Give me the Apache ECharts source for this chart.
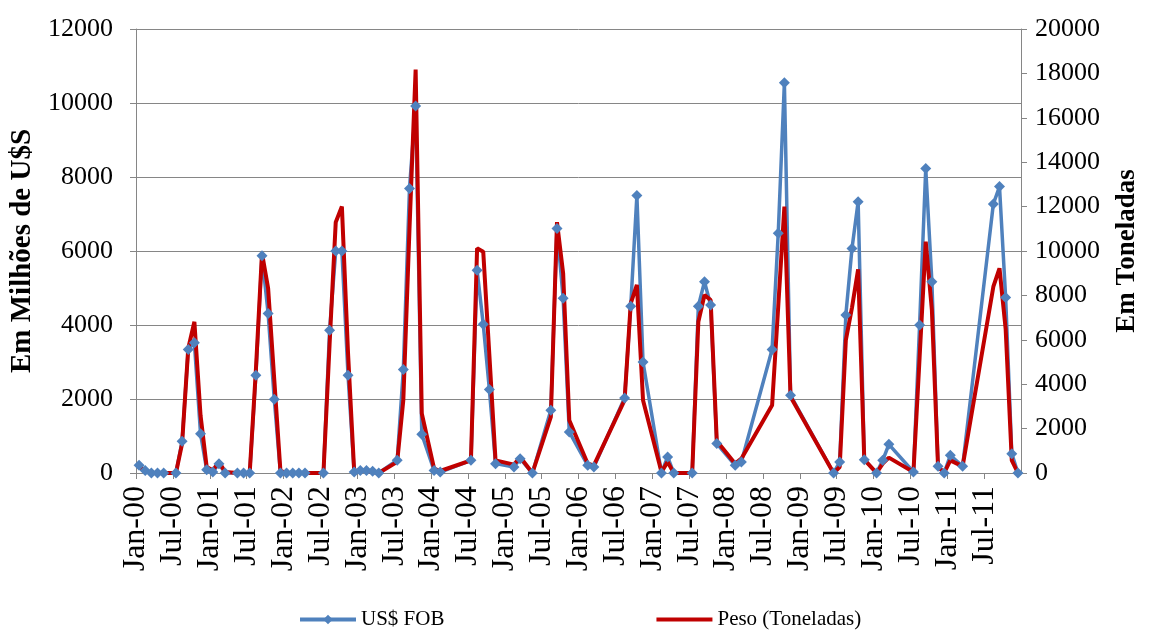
<!DOCTYPE html>
<html><head><meta charset="utf-8">
<script src="https://cdn.jsdelivr.net/npm/echarts@6/dist/echarts.min.js"></script>
<style>html,body{margin:0;padding:0;background:#fff}#c{width:1149px;height:630px}</style>
</head><body><div id="c"></div>
<script>
const months = ['2000-01','2000-02','2000-03','2000-04','2000-05','2000-07','2000-08','2000-09','2000-10','2000-11','2000-12',
'2001-01','2001-02','2001-03','2001-05','2001-06','2001-07','2001-08','2001-09','2001-10','2001-11','2001-12',
'2002-01','2002-02','2002-03','2002-04','2002-07','2002-08','2002-09','2002-10','2002-11','2002-12',
'2003-01','2003-02','2003-03','2003-04','2003-07','2003-08','2003-09','2003-10','2003-11',
'2004-01','2004-02','2004-07','2004-08','2004-09','2004-10','2004-11',
'2005-02','2005-03','2005-05','2005-08','2005-09','2005-10','2005-11',
'2006-02','2006-03','2006-08','2006-09','2006-10','2006-11',
'2007-02','2007-03','2007-04','2007-07','2007-08','2007-09','2007-10','2007-11',
'2008-02','2008-03','2008-08','2008-09','2008-10','2008-11',
'2009-06','2009-07','2009-08','2009-09','2009-10','2009-11',
'2010-01','2010-02','2010-03','2010-07','2010-08','2010-09','2010-10','2010-11','2010-12',
'2011-01','2011-03','2011-08','2011-09','2011-10','2011-11','2011-12'];
const usdFob = [207,70,0,0,0,0,857,3340,3520,1064,90,
27,250,0,0,0,0,2640,5870,4310,1990,0,
0,0,0,0,0,3860,6000,6000,2640,30,
70,70,50,0,343,2800,7690,9920,1046,
70,27,343,5480,4020,2255,253,
162,388,0,1696,6610,4720,1109,
207,162,2030,4510,7500,3000,
0,433,0,0,4510,5170,4540,794,
207,298,3340,6480,10550,2100,
0,298,4270,6070,7330,361,
0,343,776,27,4000,8230,5170,180,0,
478,180,7270,7740,4745,523,0];
const pesoTon = [300,90,0,0,0,0,1320,5610,6810,2600,270,
120,500,45,0,0,0,4600,9900,8320,4200,90,
0,0,0,0,0,5800,11300,12000,5400,90,
120,90,45,0,500,3300,11000,18170,2680,
200,90,570,10120,9970,5300,570,
376,722,0,2530,11300,9000,2380,
420,346,3280,7640,8470,3280,
45,500,0,0,6810,8020,7790,1444,
421,647,3050,7500,12000,3430,
0,270,5990,7450,9170,602,
0,420,692,45,5200,10420,7340,300,0,
570,300,8390,9220,6500,570,0];
const tickLabelsMonth = ['Jan-','Jul-'];

function idx(d){const [y,m]=d.split('-').map(Number);return (y-2000)*12+(m-1)+0.5;}
const usdData = months.map((d,i)=>[idx(d),usdFob[i]]);
const pesoData = months.map((d,i)=>[idx(d),pesoTon[i]]);
const F = 'Liberation Serif';
const axisGray = '#868686';

const chart = echarts.init(document.getElementById('c'));
chart.setOption({
  animation:false,
  backgroundColor:'#fff',
  grid:{left:136,right:126,top:29,bottom:157,containLabel:false},
  legend:{
    left:293, top:604, itemWidth:56, itemHeight:12, itemGap:212,
    textStyle:{fontFamily:F,fontSize:21,color:'#000'},
    data:[
      {name:'US$ FOB', lineStyle:{width:4}},
      {name:'Peso (Toneladas)', icon:'path://M0,0L56,0L56,4L0,4Z', itemStyle:{color:'#C00000'}}
    ]
  },
  xAxis:{
    type:'value', min:0, max:144, interval:6,
    axisLine:{show:true,lineStyle:{color:axisGray,width:1}},
    axisTick:{show:true,length:6,lineStyle:{color:axisGray}},
    splitLine:{show:false},
    axisLabel:{
      rotate:90, fontFamily:F, fontSize:32, color:'#000', margin:13,
      showMaxLabel:false,
      formatter:function(v){ if(v>=144) return ''; const y=Math.floor(v/12); return tickLabelsMonth[(v%12===0)?0:1]+String(y).padStart(2,'0'); }
    }
  },
  yAxis:[{
    type:'value', min:0, max:12000, interval:2000, position:'left',
    name:'Em Milhões de U$S', nameLocation:'middle', nameGap:93, nameRotate:90,
    nameTextStyle:{fontFamily:F,fontSize:29,fontWeight:'bold',color:'#000'},
    axisLine:{show:true,lineStyle:{color:axisGray}},
    axisTick:{show:true,length:6,lineStyle:{color:axisGray}},
    splitLine:{show:true,lineStyle:{color:axisGray,width:1}},
    axisLabel:{fontFamily:F,fontSize:26,color:'#000',margin:23,formatter:v=>String(v)}
  },{
    type:'value', min:0, max:20000, interval:2000, position:'right',
    name:'Em Toneladas', nameLocation:'middle', nameGap:93, nameRotate:90,
    nameTextStyle:{fontFamily:F,fontSize:27,fontWeight:'bold',color:'#000'},
    axisLine:{show:true,lineStyle:{color:axisGray}},
    axisTick:{show:true,length:6,lineStyle:{color:axisGray}},
    splitLine:{show:false},
    axisLabel:{fontFamily:F,fontSize:26,color:'#000',margin:14,formatter:v=>String(v)}
  }],
  series:[{
    name:'US$ FOB', type:'line', yAxisIndex:0, data:usdData,
    symbol:'diamond', symbolSize:11, showSymbol:true,
    lineStyle:{color:'#4F81BD',width:3.5},
    itemStyle:{color:'#4F81BD'}
  },{
    name:'Peso (Toneladas)', type:'line', yAxisIndex:1, data:pesoData,
    symbol:'none',
    lineStyle:{color:'#C00000',width:4},
    itemStyle:{color:'#C00000'}
  }]
});
</script></body></html>
